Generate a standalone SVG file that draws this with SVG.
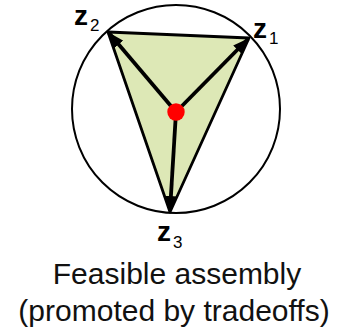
<svg xmlns="http://www.w3.org/2000/svg" width="338" height="331" viewBox="0 0 338 331">
<defs>
<style>
.lbl{font-family:"Liberation Sans",Arial,sans-serif;font-weight:bold;font-size:28px;fill:#000}
.sub{font-family:"Liberation Sans",Arial,sans-serif;font-size:17px;fill:#000}
.cap{font-family:"Liberation Sans",Arial,sans-serif;font-size:30px;fill:#111;text-anchor:middle}
.edge{stroke:#000;stroke-width:2.8;fill:#dde8b6;stroke-linejoin:round}
.arr{stroke:#000;stroke-width:3.8;fill:none;marker-end:url(#ah)}
</style>
<marker id="ah" markerUnits="userSpaceOnUse" markerWidth="16" markerHeight="12" viewBox="0 0 16 12" refX="15" refY="6" orient="auto">
<path d="M0,0 L16,6 L0,12 Z" fill="#000"/>
</marker>
</defs>
<rect width="338" height="331" fill="#fff"/>
<circle cx="176" cy="109" r="104" fill="none" stroke="#000" stroke-width="2"/>
<g id="triangle">
<polygon points="108,32 249,38 170,212" class="edge"/>
</g>
<g id="connectors">
<line x1="176" y1="112" x2="109" y2="33" class="arr"/>
<line x1="176" y1="112" x2="248" y2="39" class="arr"/>
<line x1="176" y1="112" x2="170" y2="211" class="arr"/>
</g>
<g id="center">
<circle cx="176" cy="112" r="8.7" fill="#f00"/>
</g>
<g id="z2">
<text x="74" y="25" class="lbl">z</text>
<text x="90" y="31" class="sub">2</text>
</g>
<g id="z1">
<text x="253" y="38" class="lbl">z</text>
<text x="269" y="44" class="sub">1</text>
</g>
<g id="z3">
<text x="157" y="241" class="lbl">z</text>
<text x="173" y="248" class="sub">3</text>
</g>
<g id="caption">
<text x="177" y="284" class="cap">Feasible assembly</text>
<text x="174" y="321" class="cap">(promoted by tradeoffs)</text>
</g>
</svg>
